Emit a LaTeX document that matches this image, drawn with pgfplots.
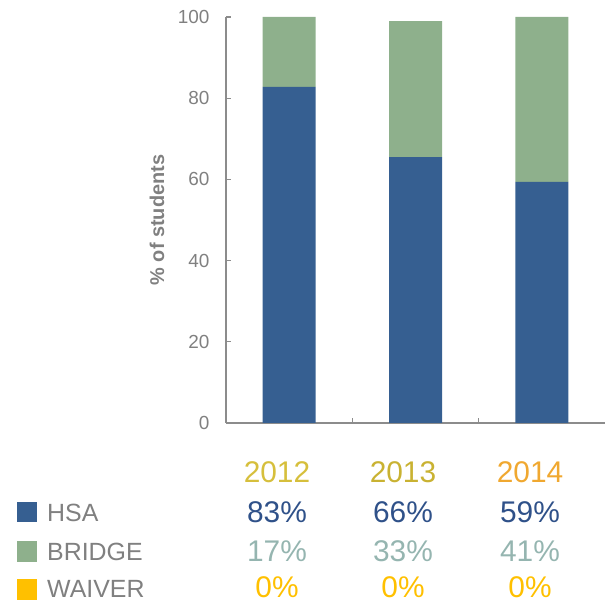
\documentclass[border=0pt]{standalone}
\usepackage{pgfplots}
\pgfplotsset{compat=1.18}
\usepackage{fontspec}
\setmainfont{Liberation Sans}
\definecolor{hsa}{HTML}{365F91}
\definecolor{bridge}{HTML}{8EB08C}
\definecolor{waiver}{HTML}{FFC000}
\definecolor{axgray}{HTML}{8C8C8C}
\definecolor{txtgray}{HTML}{808080}
\definecolor{yA}{HTML}{D6BF3C}
\definecolor{yB}{HTML}{C9B232}
\definecolor{yC}{HTML}{F0A830}
\definecolor{hsatxt}{HTML}{2F5189}
\definecolor{brtxt}{HTML}{95B5B0}
\begin{document}
\begin{tikzpicture}[x=1bp,y=1bp]
\useasboundingbox (0,0) rectangle (605,603);
\begin{axis}[
  at={(226bp,180bp)}, anchor=south west,
  scale only axis, width=379bp, height=406bp,
  xmin=-0.5, xmax=2.5, ymin=0, ymax=100,
  axis x line=bottom, axis y line=left,
  axis line style={axgray, line width=1.3pt, -},
  ybar stacked, bar width=53bp,
  xtick={0.5,1.5}, xticklabels={},
  ytick={0,20,...,100},
  tick align=inside, major tick length=5bp,
  tick style={axgray, line width=1.3pt},
  yticklabel style={font=\fontsize{19}{19}\selectfont, text=txtgray, xshift=-13bp},
  /pgf/number format/assume math mode=true,
  ylabel={\textbf{\% of students}},
  ylabel style={font=\fontsize{20}{20}\selectfont, text=txtgray, at={(axis description cs:0,0.5)}, anchor=center, rotate=0, yshift=69bp},
  clip=false,
]
\addplot[fill=hsa, draw=none] coordinates {(0,82.8) (1,65.5) (2,59.4)};
\addplot[fill=bridge, draw=none] coordinates {(0,17.2) (1,33.5) (2,40.6)};
\addplot[fill=waiver, draw=none] coordinates {(0,0) (1,0) (2,0)};
\end{axis}
\begin{scope}[every node/.style={inner sep=0pt, anchor=center}]
\fill[hsa] (17,80.5) rectangle (37,101);
\fill[bridge] (17,41) rectangle (37,62);
\fill[waiver] (17,3) rectangle (37,24);
\node[anchor=west, text=txtgray, font=\fontsize{25}{25}\selectfont] at (47,90.5) {HSA};
\node[anchor=west, text=txtgray, font=\fontsize{25}{25}\selectfont] at (47,51.5) {BRIDGE};
\node[anchor=west, text=txtgray, font=\fontsize{25}{25}\selectfont] at (47,14) {WAIVER};
\node[text=yA, font=\fontsize{30}{30}\selectfont] at (277,130.5) {2012};
\node[text=yB, font=\fontsize{30}{30}\selectfont] at (403,130.5) {2013};
\node[text=yC, font=\fontsize{30}{30}\selectfont] at (530,130.5) {2014};
\node[text=hsatxt, font=\fontsize{30}{30}\selectfont] at (277,90.5) {83\%};
\node[text=hsatxt, font=\fontsize{30}{30}\selectfont] at (403,90.5) {66\%};
\node[text=hsatxt, font=\fontsize{30}{30}\selectfont] at (530,90.5) {59\%};
\node[text=brtxt, font=\fontsize{30}{30}\selectfont] at (277,51.5) {17\%};
\node[text=brtxt, font=\fontsize{30}{30}\selectfont] at (403,51.5) {33\%};
\node[text=brtxt, font=\fontsize{30}{30}\selectfont] at (530,51.5) {41\%};
\node[text=waiver, font=\fontsize{30}{30}\selectfont] at (277,15.5) {0\%};
\node[text=waiver, font=\fontsize{30}{30}\selectfont] at (403,15.5) {0\%};
\node[text=waiver, font=\fontsize{30}{30}\selectfont] at (530,15.5) {0\%};
\end{scope}
\end{tikzpicture}
\end{document}
